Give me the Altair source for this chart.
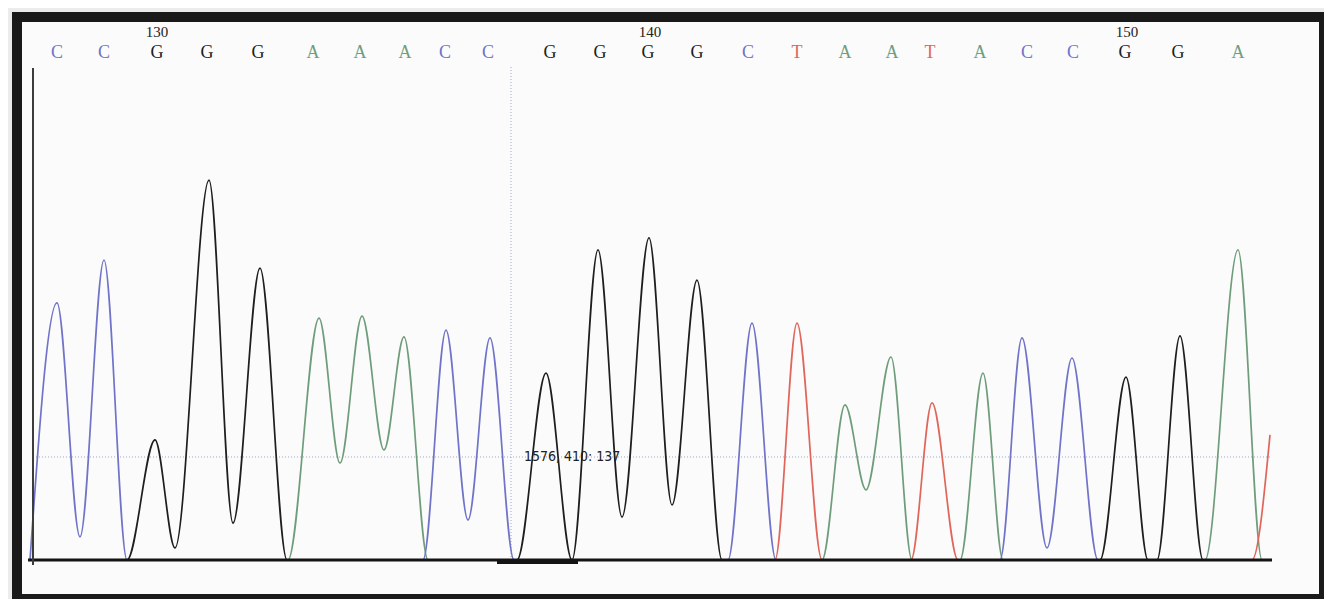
import altair as alt
import pandas as pd

# ---- base calls (scan position of each called base) ----
bases = list("CCGGGAAACCGGGGCTAATACCGGA")
base_scan = [1122, 1169, 1222, 1272, 1323, 1378, 1425, 1470, 1510, 1553,
             1615, 1665, 1713, 1762, 1813, 1862, 1910, 1957, 1995, 2045,
             2092, 2138, 2190, 2243, 2303]
pos_labels = ["130", "140", "150"]
pos_scan = [1222, 1715, 2192]

# ---- trace data: (scan, signal) read at peaks, valleys and baseline contacts ----
A_scan = [1095, 1353, 1384, 1405, 1427, 1449, 1469, 1493, 1887, 1910, 1931, 1956, 1977,
          2025, 2048, 2068, 2270, 2303, 2327, 2337]
A_sig = [0, 0, 963, 386, 971, 438, 888, 0, 0, 617, 279, 808, 0,
         0, 744, 0, 0, 1234, 0, 0]

C_scan = [1095, 1122, 1145, 1169, 1192, 1488, 1511, 1533, 1555, 1579, 1793, 1817, 1841,
          2065, 2087, 2112, 2137, 2163, 2337]
C_sig = [0, 1023, 92, 1194, 0, 0, 915, 159, 884, 0, 0, 943, 0,
         0, 884, 48, 804, 0, 0]

G_scan = [1095, 1192, 1220, 1240, 1274, 1298, 1325, 1352, 1582, 1611, 1637, 1663, 1687,
          1714, 1737, 1762, 1787, 2165, 2191, 2213, 2222, 2245, 2268, 2337]
G_sig = [0, 0, 478, 48, 1512, 147, 1162, 0, 0, 744, 0, 1234, 171,
         1282, 219, 1114, 0, 0, 728, 0, 0, 892, 0, 0]

T_scan = [1095, 1840, 1862, 1887, 1976, 1997, 2023, 2317, 2335]
T_sig = [0, 0, 943, 0, 0, 625, 0, 0, 498]

# cursor readout
cursor_scan = 1576
cursor_signal = 410
cursor_base = 137

trace = pd.concat([
    pd.DataFrame({"base": "A", "scan": A_scan, "signal": A_sig}),
    pd.DataFrame({"base": "C", "scan": C_scan, "signal": C_sig}),
    pd.DataFrame({"base": "G", "scan": G_scan, "signal": G_sig}),
    pd.DataFrame({"base": "T", "scan": T_scan, "signal": T_sig}),
], ignore_index=True)

calls = pd.DataFrame({"base": bases, "scan": base_scan})
positions = pd.DataFrame({"label": pos_labels, "scan": pos_scan})

xscale = alt.Scale(domain=[1082, 2389], nice=False, zero=False)
yscale = alt.Scale(domain=[-155.2, 2161.1], nice=False, zero=False)
cscale = alt.Scale(domain=["A", "C", "G", "T"],
                   range=["#6f9d7c", "#7073c8", "#1e1e1e", "#e0655a"])

X = lambda f: alt.X(f, scale=xscale, axis=None)
Y = lambda f: alt.Y(f, scale=yscale, axis=None)

# crosshair
vcur = alt.Chart(pd.DataFrame({"s": [cursor_scan], "y0": [0], "y1": [1970]})).mark_rule(
    color="#9ea6cc", strokeWidth=1, strokeDash=[1, 2]).encode(
    x=X("s:Q"), y=Y("y0:Q"), y2="y1:Q")
hcur = alt.Chart(pd.DataFrame({"s0": [1098], "s1": [2335], "v": [cursor_signal]})).mark_rule(
    color="#9ea6cc", strokeWidth=1, strokeDash=[1, 2]).encode(
    x=X("s0:Q"), x2="s1:Q", y=Y("v:Q"))

lines = alt.Chart(trace).mark_line(interpolate="monotone", strokeWidth=1.7).encode(
    x=X("scan:Q"), y=Y("signal:Q"),
    color=alt.Color("base:N", scale=cscale, legend=None),
    detail="base:N")

baseline = alt.Chart(pd.DataFrame({"s0": [1093], "s1": [2337], "v": [0]})).mark_rule(
    color="#141414", strokeWidth=3).encode(x=X("s0:Q"), x2="s1:Q", y=Y("v:Q"))
cursor_bar = alt.Chart(pd.DataFrame({"s0": [1562], "s1": [1643], "v": [-10]})).mark_rule(
    color="#141414", strokeWidth=3).encode(x=X("s0:Q"), x2="s1:Q", y=Y("v:Q"))
left_axis = alt.Chart(pd.DataFrame({"s": [1098], "y0": [-20], "y1": [1958]})).mark_rule(
    color="#3c3c3c", strokeWidth=2).encode(x=X("s:Q"), y=Y("y0:Q"), y2="y1:Q")

readout = alt.Chart(pd.DataFrame({"s": [cursor_scan], "v": [cursor_signal],
                                  "t": [f"{cursor_scan}, {cursor_signal}: {cursor_base}"]})).mark_text(
    align="left", baseline="middle", dx=13,
    font="Liberation Sans Narrow, DejaVu Sans Condensed, Roboto Condensed, Liberation Sans",
    fontSize=14, color="#222222").encode(x=X("s:Q"), y=Y("v:Q"), text="t:N")

letters = alt.Chart(calls).mark_text(
    font="Liberation Serif", fontSize=18, baseline="middle").encode(
    x=X("scan:Q"), y=alt.value(36), text="base:N",
    color=alt.Color("base:N", scale=cscale, legend=None))

nums = alt.Chart(positions).mark_text(
    font="Liberation Serif", fontSize=15, baseline="middle", color="#222222").encode(
    x=X("scan:Q"), y=alt.value(15), text="label:N")

chart = alt.layer(vcur, hcur, lines, baseline, cursor_bar, left_axis, readout, letters, nums).properties(
    width=1307, height=582,
    background="#ececec",
    padding={"left": 9, "top": 9, "right": 0, "bottom": 0},
    autosize=alt.AutoSizeParams(type="none"),
).configure_view(fill="#fbfbfb", stroke="#1a1a1a", strokeWidth=10)

chart.save("out.html", embed_options={"renderer": "svg", "actions": False})
